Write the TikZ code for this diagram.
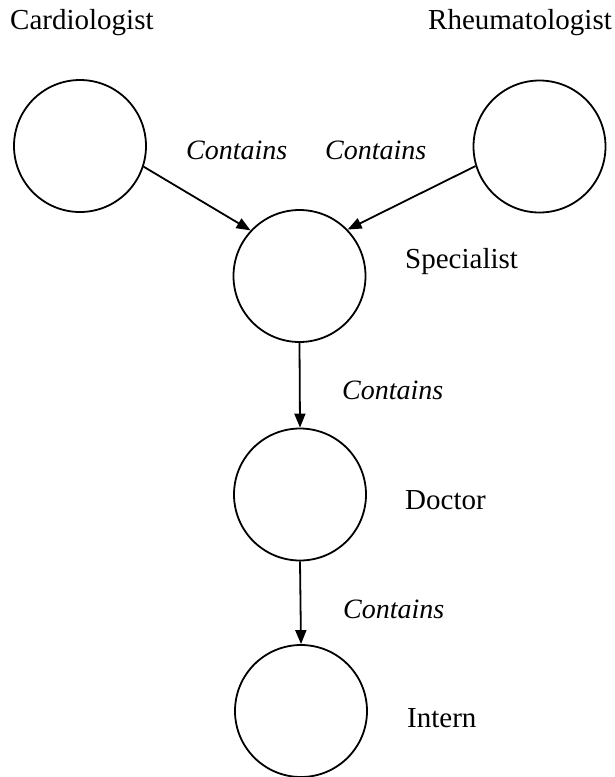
\documentclass[tikz,border=0pt]{standalone}
\usepackage{fontspec}
\setmainfont{Liberation Serif}
\usetikzlibrary{arrows.meta}
\begin{document}
\begin{tikzpicture}[x=1pt,y=-1pt,
  role/.style={circle,draw,line width=1.8pt,minimum size=132pt,inner sep=0pt},
  rel/.style={-{Triangle[length=14pt,width=11pt]},line width=1.8pt},
  title/.style={anchor=base west,inner sep=0pt,font=\fontsize{29}{34}\selectfont},
  edgelabel/.style={anchor=base west,inner sep=0pt,font=\fontsize{28}{33}\selectfont\itshape}]
\useasboundingbox (0,0) rectangle (615,777);

% role hierarchy
\node[role] (card)   at (80,146)     {};
\node[role] (rheum)  at (539.5,146.5) {};
\node[role] (spec)   at (299.5,276)  {};
\node[role] (doc)    at (300,494.5)  {};
\node[role] (intern) at (301,711)    {};

% role names
\node[title] (tcard)   at (10,29)  {Cardiologist};
\node[title] (trheum)  at (428,29) {Rheumatologist};
\node[title] (tspec)   at (405,268) {Specialist};
\node[title] (tdoc)    at (405,509) {Doctor};
\node[title] (tintern) at (407,727) {Intern};

% containment links
\draw[rel] (card.-18)   -- (spec.137);
\draw[rel] (rheum.197.6) -- (spec.44);
\draw[rel] (spec.south) -- (doc.north);
\draw[rel] (doc.south)  -- (intern.north);

\node[edgelabel] (l1) at (186,159) {Contains};
\node[edgelabel] (l2) at (325,159) {Contains};
\node[edgelabel] (l3) at (342,399) {Contains};
\node[edgelabel] (l4) at (343,618) {Contains};
\end{tikzpicture}
\end{document}
